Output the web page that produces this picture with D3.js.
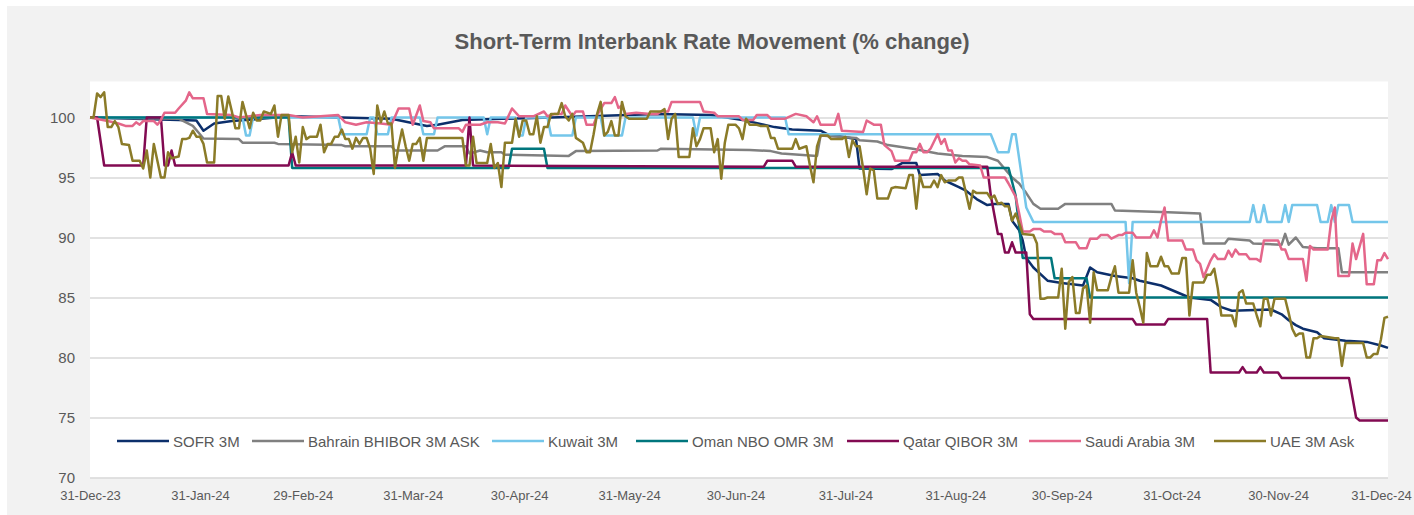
<!DOCTYPE html>
<html><head><meta charset="utf-8">
<script src="https://cdn.jsdelivr.net/npm/d3@7"></script>
<style>
html,body{margin:0;padding:0;background:#fff;}
svg{display:block;}
text{font-family:"Liberation Sans",Arial,sans-serif;}
</style></head>
<body><svg id="c" width="1414" height="515"></svg>
<script>
// ---- data: [days since 31-Dec-23, index value] ----
const seriesNames = ["SOFR 3M","Bahrain BHIBOR 3M ASK","Kuwait 3M","Oman NBO OMR 3M","Qatar QIBOR 3M","Saudi Arabia 3M","UAE 3M Ask"];
const seriesColors = ["#0c2f6b","#808080","#74c6ea","#00767d","#820a52","#e4668a","#8b7b28"];

const sofr = [[0,100],[30,99.75],[32,98.9],[35,99.5],[40,99.7],[57,100.1],[85,99.9],[95,99.3],[98,99.4],[105,99.8],[130,100],[160,100.3],[175,100.2],[184,99.8],[193,99.2],[198,99.0],[206,98.9],[208,98.6],[216,98.2],[217,95.75],[226,95.7],[229,96.2],[233,96.2],[234,95.2],[239,95.3],[241,94.75],[245,94.2],[247,93.9],[250,93.2],[253,92.7],[255,92.8],[259,92.8],[260,91.4],[262,90.6],[263,89.75],[264,88.3],[266,87.5],[270,86.4],[274,86.2],[280,86],[282,87.5],[284,87.1],[289,86.8],[294,86.6],[296,86.4],[302,86.0],[306,85.5],[310,85.0],[316,84.8],[319,84.2],[322,83.9],[333,84.0],[336,83.6],[338,83.1],[340,82.7],[342,82.4],[346,82.1],[348,81.6],[354,81.4],[360,81.3],[364,81.0],[366,80.8]];

const bahrain = [[0,100],[25,99.9],[29,99.3],[31,98.6],[32,98.25],[42,98.2],[43,97.9],[52,97.9],[53,97.8],[71,97.7],[72,97.6],[85,97.6],[86,97.25],[98,97.25],[100,97.6],[106,97.6],[107,97.0],[110,97.25],[112,97.1],[116,97.1],[117,96.9],[135,96.8],[137,97.2],[160,97.25],[161,97.4],[186,97.3],[192,97.2],[195,97.0],[205,96.8],[206,98.5],[216,98.3],[217,98.1],[222,98.0],[225,97.7],[232,97.4],[239,97.0],[246,96.8],[253,96.7],[256,96.4],[260,95.0],[262,94.5],[264,93.7],[266,92.8],[268,92.4],[273,92.4],[275,92.8],[288,92.8],[289,92.25],[304,92.1],[313,92.0],[314,89.5],[320,89.5],[321,89.9],[327,89.75],[328,89.5],[336,89.4],[337,90.3],[338,89.4],[340,90.0],[342,89.2],[346,89.1],[352,89.1],[353,87.1],[366,87.1]];

const kuwait = [[0,100],[43,100],[44,98.5],[45,98.5],[46,100],[70,100],[71,98.6],[78,98.6],[79,100],[80,100],[81,98.6],[84,98.6],[85,100],[93,100],[94,98.6],[97,98.6],[98,100],[111,100],[112,98.6],[113,100],[120,100],[121,98.5],[122,98.5],[123,100],[129,100],[130,98.5],[136,98.5],[137,100],[144,100],[145,98.5],[150,98.5],[151,100],[170,100],[171,98.5],[172,100],[196,100],[197,98.6],[254,98.6],[256,97.1],[259,97.1],[260,98.6],[261,98.6],[264,92.5],[266,91.3],[292,91.3],[293,86.2],[294,91.3],[327,91.3],[328,92.7],[329,91.3],[330,91.3],[331,92.7],[332,91.3],[336,91.3],[337,92.7],[338,91.3],[339,92.7],[346,92.7],[347,91.3],[349,91.3],[350,92.7],[351,91.3],[352,92.7],[355,92.7],[356,91.3],[366,91.3]];

const oman = [[0,100],[56,100],[57,95.8],[118,95.8],[119,97.4],[128,97.4],[129,95.8],[259,95.8],[261,93.5],[263,88.3],[271,88.3],[272,86.6],[281,86.6],[282,85.0],[366,85.0]];

const qatar = [[0,100],[2,100],[4,96],[15,96],[16,100],[20,100],[21,96],[22,96],[23,97.25],[24,96],[56,96],[57,97.1],[58,96],[106,96],[107,100],[108,96],[190,95.9],[191,96.4],[198,96.4],[199,95.9],[253,95.9],[254,93.5],[256,90.3],[257,90.3],[258,88.75],[259,88.75],[260,89.6],[261,88.75],[264,88.75],[265,83.6],[266,83.2],[294,83.2],[295,82.75],[303,82.75],[304,83.2],[315,83.2],[316,78.75],[324,78.75],[325,79.2],[326,78.75],[329,78.75],[330,79.2],[331,78.75],[335,78.75],[336,78.3],[355,78.3],[357,75],[358,74.75],[366,74.75]];

const saudi = [[0,100],[5,99.7],[8,99.5],[10,99.3],[12,99.3],[13,99.6],[14,99.4],[15,99.7],[18,99.7],[19,99.4],[20,99.8],[21,100.4],[24,100.4],[25,100.75],[27,101.4],[28,102.1],[29,101.6],[32,101.6],[33,100.3],[40,100.2],[42,100.0],[48,100.2],[56,100.2],[60,100.0],[65,100.1],[70,100.2],[72,99.6],[75,99.4],[78,99.6],[82,99.5],[85,99.4],[87,100.75],[90,100.75],[91,99.4],[93,101.0],[94,99.7],[96,99.6],[97,99.1],[104,99.1],[105,98.8],[106,99.4],[110,99.4],[112,99.6],[115,99.6],[117,99.5],[119,100.75],[121,100.1],[125,100.1],[128,100.5],[129,100.1],[131,100.3],[133,100.3],[134,101.0],[136,100.1],[137,100.5],[139,100.5],[140,99.4],[142,99.4],[143,100.2],[145,101.2],[147,101.2],[148,101.7],[149,100.8],[150,101.0],[151,100.3],[154,100.4],[158,100.3],[160,100.3],[161,100.5],[163,100.5],[164,101.3],[172,101.3],[173,100.5],[176,100.4],[177,100.1],[183,100.1],[184,99.8],[187,99.8],[188,100.2],[191,100.2],[192,99.9],[196,99.9],[199,100.3],[202,100.1],[204,99.6],[205,100.1],[206,99.4],[210,99.4],[211,100.3],[212,98.9],[218,98.8],[219,99.75],[221,99.4],[223,99.4],[224,97.7],[226,97.2],[227,96.4],[231,96.4],[232,97.1],[233,97.1],[234,97.8],[235,97.1],[236,97.1],[237,97.4],[238,98.0],[239,98.6],[240,97.8],[241,98.2],[242,97.25],[243,97.25],[244,96.25],[245,96.6],[246,96.4],[247,96.4],[248,96.1],[251,96.0],[252,95.0],[258,95.0],[259,94.5],[261,93.4],[262,92.0],[263,90.5],[265,90.5],[266,90.7],[268,90.7],[269,90.5],[271,90.5],[272,90.3],[274,90.3],[275,89.6],[278,89.6],[279,89.1],[281,89.1],[282,89.9],[284,89.9],[285,90.2],[287,90.2],[288,89.9],[290,90.2],[291,90.2],[292,90.4],[294,90.4],[295,90.0],[299,90.0],[300,90.6],[301,90.0],[302,91.4],[303,92.5],[304,89.75],[308,89.75],[309,89.0],[311,89.0],[312,88.1],[313,87.8],[314,86.7],[316,88.1],[317,88.6],[318,88.2],[320,88.2],[321,88.9],[322,88.4],[323,89.0],[324,88.6],[326,88.6],[327,88.2],[329,88.2],[330,88.0],[331,89.75],[335,89.75],[336,89.0],[337,89.0],[338,88.2],[342,88.2],[343,86.4],[344,89.3],[345,89.0],[349,89.0],[350,91.4],[351,92.5],[352,86.8],[355,86.8],[356,89.5],[357,88.2],[359,90.3],[360,86.1],[362,86.1],[363,88.1],[364,88.1],[365,88.7],[366,88.2]];

const uae = [[0,100],[1,100],[2,102],[3,101.7],[4,102.1],[5,99.2],[6,99.2],[7,99.7],[8,99.2],[9,97.8],[11,97.7],[12,96.4],[14,96.4],[15,95.75],[16,97.25],[17,95.0],[18,97.8],[20,95.0],[21,95.0],[22,97.1],[23,96.6],[25,96.75],[26,98.2],[27,98.2],[28,98.3],[29,98.9],[30,98.4],[31,98.4],[32,97.8],[33,96.25],[35,96.25],[36,101.8],[37,101.8],[38,99.9],[39,101.75],[40,100.5],[41,99.1],[42,99.1],[43,101.3],[45,99.1],[46,100.4],[47,99.75],[48,99.75],[49,100.5],[51,100.3],[52,101.0],[53,98.4],[54,100.2],[56,100.2],[57,97.1],[58,98.4],[59,96.25],[60,99.2],[61,98.2],[62,98.4],[64,98.4],[65,99.4],[66,97.1],[67,97.8],[68,97.8],[69,98.4],[70,98.4],[71,99.0],[72,98.2],[73,98.2],[74,97.4],[75,98.3],[76,97.8],[77,98.3],[78,98.3],[79,97.4],[80,95.3],[81,101.0],[82,99.6],[83,100.5],[84,99.5],[85,99.5],[86,95.8],[87,97.6],[88,99.0],[89,97.6],[90,96.4],[91,97.8],[92,97.8],[93,98.3],[94,96.4],[95,98.3],[105,98.3],[106,96.0],[107,96.0],[108,98.4],[109,96.2],[112,96.2],[113,97.8],[114,95.8],[115,96.2],[116,94.2],[117,97.9],[119,97.9],[120,99.9],[121,98.4],[122,99.75],[123,99.75],[124,98.6],[125,98.6],[126,100.1],[127,97.9],[128,99.2],[129,99.2],[130,100.3],[132,100.3],[133,101.2],[134,100.1],[135,99.75],[136,100.3],[137,98.3],[139,97.9],[140,97.1],[141,97.1],[142,98.6],[143,100.3],[144,101.3],[145,98.5],[146,98.8],[147,99.7],[148,98.5],[149,98.5],[150,101.3],[151,100.1],[152,99.9],[157,99.9],[158,100.5],[161,100.5],[162,100.7],[163,98.2],[164,99.9],[165,100.3],[166,96.7],[169,96.7],[170,99.1],[171,97.6],[172,98.2],[173,99.1],[175,99.1],[176,97.1],[177,98.2],[178,94.9],[179,97.9],[180,99.4],[182,99.4],[183,99.1],[184,98.2],[185,99.9],[186,99.4],[188,99.4],[189,99.3],[191,99.3],[192,98.3],[193,98.3],[194,97.4],[198,97.4],[199,98.2],[200,97.4],[202,97.6],[203,96.0],[204,94.6],[205,97.6],[206,98.5],[208,98.5],[209,98.2],[212,98.2],[213,98.4],[214,96.7],[215,98.1],[216,97.6],[217,97.6],[218,95.75],[219,93.6],[220,95.75],[221,95.6],[222,93.25],[225,93.25],[226,94.1],[227,94.2],[230,94.1],[231,95.2],[232,95.2],[233,92.4],[234,95.2],[235,94.2],[237,94.2],[238,94.75],[239,94.2],[240,95.2],[241,94.6],[242,94.75],[244,94.75],[245,95.0],[246,95.0],[247,93.7],[248,92.4],[249,93.9],[250,93.7],[253,93.7],[254,93.25],[255,93.5],[256,92.8],[257,92.9],[258,92.6],[259,92.6],[260,91.4],[261,92.0],[262,91.2],[263,90.3],[266,90.2],[267,89.5],[268,84.9],[269,84.9],[270,85.0],[273,85.0],[274,87.4],[275,82.4],[276,86.3],[277,86.7],[278,83.7],[279,83.7],[280,85.75],[281,86.0],[282,82.9],[283,87.1],[284,85.6],[287,85.6],[288,86.7],[289,87.6],[290,85.4],[293,85.4],[294,88.1],[295,85.4],[296,84.2],[297,82.9],[298,88.7],[299,87.6],[301,87.6],[302,88.4],[303,87.6],[304,87.6],[305,87.0],[307,87.0],[308,88.3],[309,88.3],[310,83.5],[311,86.25],[314,86.25],[315,86.9],[316,86.9],[317,87.4],[318,85.75],[319,83.5],[322,83.5],[323,82.6],[324,85.4],[325,85.6],[326,84.5],[328,84.5],[329,83.5],[330,82.6],[331,84.9],[332,84.9],[333,83.5],[334,84.9],[337,84.9],[338,83.7],[339,82.4],[340,81.8],[341,82.0],[342,82.0],[343,80.0],[344,80.0],[345,81.6],[346,81.6],[347,81.8],[351,81.6],[352,81.6],[353,79.3],[354,81.2],[359,81.2],[360,80.0],[361,80.0],[362,80.3],[363,80.3],[364,81.5],[365,83.3],[366,83.4]];

const allSeries = [sofr, bahrain, kuwait, oman, qatar, saudi, uae];
const yTicks = [70,75,80,85,90,95,100];
const xTickLabels = ["2023-12-31","2024-01-31","2024-02-29","2024-03-31","2024-04-30","2024-05-31","2024-06-30","2024-07-31","2024-08-31","2024-09-30","2024-10-31","2024-11-30","2024-12-31"];

// ---- layout ----
const W = 1414, H = 515;
const plot = {left: 90, right: 1388, top: 81.5, bottom: 477.5};
const svg = d3.select("#c");
const parse = d3.timeParse("%Y-%m-%d");
const dayToDate = d => new Date(2023, 11, 31 + d);

svg.append("rect").attr("x",7).attr("y",6).attr("width",W-7).attr("height",H-6).attr("fill","#f2f2f2");

const x = d3.scaleTime().domain([parse("2023-12-31"), parse("2024-12-31")]).range([plot.left, plot.right]);
const y = d3.scaleLinear().domain([70, 103]).range([plot.bottom, plot.top]);

svg.append("rect").attr("x",plot.left).attr("y",y(103)).attr("width",plot.right-plot.left).attr("height",y(70)-y(103)).attr("fill","#fff");

// title
svg.append("text").attr("x",712).attr("y",49).attr("text-anchor","middle")
  .attr("font-size",22).attr("font-weight","bold").attr("fill","#595959")
  .attr("textLength",515).attr("lengthAdjust","spacingAndGlyphs")
  .text("Short-Term Interbank Rate Movement (% change)");

// y axis + grid
const yAxis = svg.append("g").attr("transform",`translate(${plot.left},0)`)
  .call(d3.axisLeft(y).tickValues(yTicks).tickSize(-(plot.right-plot.left)).tickPadding(15).tickFormat(d3.format("d")));
yAxis.select(".domain").remove();
yAxis.selectAll(".tick line").attr("stroke","#d9d9d9").attr("stroke-width",1.5);
yAxis.selectAll(".tick text").attr("font-size",15).attr("fill","#595959");

// x axis
const xAxis = svg.append("g").attr("transform",`translate(0,${plot.bottom})`)
  .call(d3.axisBottom(x).tickValues(xTickLabels.map(parse)).tickSize(0).tickPadding(13).tickFormat(d3.timeFormat("%d-%b-%y")));
xAxis.select(".domain").remove();
xAxis.selectAll(".tick text").attr("font-size",13).attr("fill","#595959");
xAxis.selectAll(".tick").filter((d,i,n) => i === n.length-1).select("text").attr("dx",-7);

// lines
const line = d3.line().x(d => x(dayToDate(d[0]))).y(d => y(d[1])).curve(d3.curveLinear);
allSeries.forEach((s, i) => {
  svg.append("path").datum(s).attr("d", line).attr("fill","none")
    .attr("stroke", seriesColors[i]).attr("stroke-width",2.5)
    .attr("stroke-linejoin","round").attr("stroke-linecap","butt");
});

// legend
const legendX = [117, 252, 492, 636, 847, 1029, 1214];
const legendY = 441;
const lg = svg.append("g");
seriesNames.forEach((n, i) => {
  lg.append("line").attr("x1",legendX[i]).attr("x2",legendX[i]+52).attr("y1",legendY).attr("y2",legendY)
    .attr("stroke",seriesColors[i]).attr("stroke-width",2.5);
  lg.append("text").attr("x",legendX[i]+56).attr("y",legendY+5.5).attr("font-size",15).attr("fill","#595959").text(n);
});
</script></body></html>
